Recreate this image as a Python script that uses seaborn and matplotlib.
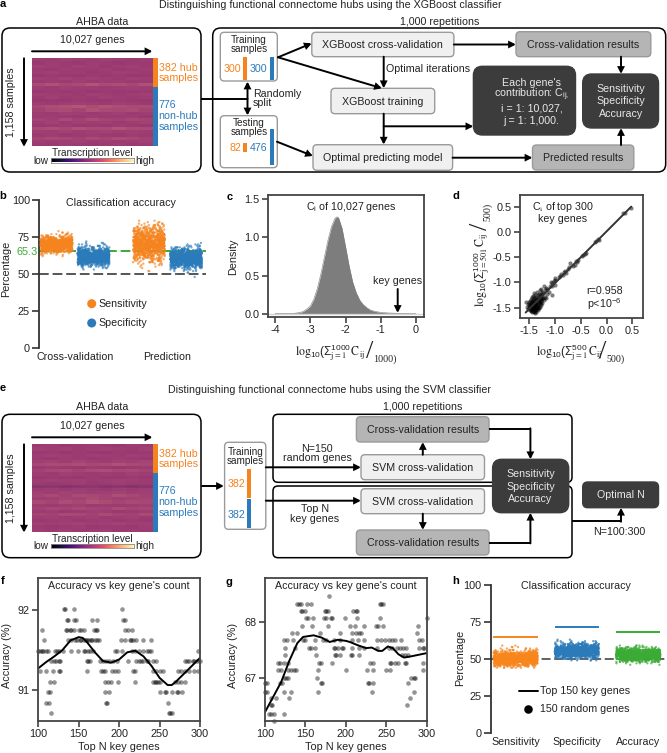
import numpy as np
import pandas as pd
import matplotlib
matplotlib.use('Agg')
import matplotlib.pyplot as plt
from matplotlib.patches import FancyBboxPatch, Rectangle
import seaborn as sns

W, H = 667, 753
ORANGE = '#f5841f'
BLUE = '#2b7bba'
GREEN = '#3bab35'
DARK = '#333333'
TEXT = '#222222'
LIGHT_BOX = '#f0f0f0'
GREY_BOX = '#b5b5b5'
DARK_BOX = '#3c3c3c'
EDGE = '#9a9a9a'

# heatmaps, transcription level in hundredths of the colour scale
heat_a = [
    [47, 46, 48, 47, 46, 48, 47, 46, 47], [45, 47, 46, 45, 47, 46, 45, 46, 46],
    [48, 47, 46, 48, 47, 45, 47, 48, 46], [46, 45, 47, 46, 46, 47, 45, 46, 47],
    [47, 48, 46, 47, 45, 46, 48, 47, 46], [44, 46, 45, 44, 46, 45, 46, 44, 45],
    [48, 47, 49, 47, 48, 47, 46, 48, 47], [46, 47, 46, 48, 46, 47, 47, 46, 46],
    [52, 55, 51, 53, 56, 52, 54, 51, 55], [47, 46, 48, 47, 47, 46, 47, 48, 47],
    [45, 46, 45, 46, 44, 46, 45, 45, 46], [48, 47, 47, 46, 48, 47, 46, 47, 48],
    [46, 48, 46, 47, 46, 48, 47, 46, 47], [44, 45, 44, 46, 45, 44, 46, 45, 44],
    [47, 46, 47, 48, 47, 46, 48, 47, 46], [51, 54, 55, 57, 53, 56, 54, 52, 53],
    [49, 52, 53, 50, 55, 52, 51, 53, 50], [47, 46, 48, 47, 46, 47, 48, 46, 47],
    [46, 47, 46, 45, 47, 46, 46, 47, 45], [50, 48, 52, 49, 53, 50, 49, 51, 50],
    [47, 49, 46, 48, 47, 48, 46, 47, 49], [45, 46, 47, 45, 46, 45, 47, 46, 45],
    [52, 54, 51, 55, 53, 52, 56, 53, 52], [48, 47, 49, 47, 48, 49, 47, 48, 47],
    [46, 47, 45, 46, 47, 46, 45, 47, 46], [50, 52, 51, 49, 52, 50, 53, 51, 49],
    [47, 46, 47, 48, 46, 47, 46, 47, 48], [46, 45, 47, 46, 45, 46, 47, 45, 46],
]
heat_e = [
    [46, 47, 45, 46, 47, 46, 45, 47, 46], [48, 47, 48, 46, 47, 48, 47, 46, 48],
    [45, 46, 44, 46, 45, 44, 46, 45, 46], [47, 48, 47, 46, 48, 47, 46, 48, 47],
    [46, 45, 47, 46, 45, 46, 47, 46, 45], [48, 49, 47, 50, 48, 47, 49, 48, 50],
    [51, 53, 52, 54, 51, 53, 55, 52, 51], [46, 47, 46, 45, 47, 46, 45, 46, 47],
    [49, 51, 52, 50, 53, 54, 51, 52, 50], [47, 46, 48, 47, 46, 47, 46, 48, 47],
    [45, 46, 45, 44, 46, 45, 44, 46, 45], [47, 48, 47, 48, 46, 47, 48, 47, 46],
    [46, 45, 46, 47, 45, 46, 47, 46, 46], [38, 40, 37, 39, 41, 38, 40, 37, 39],
    [46, 47, 45, 47, 46, 45, 47, 46, 47], [48, 47, 49, 48, 47, 48, 49, 47, 48],
    [50, 52, 49, 53, 51, 50, 54, 51, 49], [47, 48, 50, 49, 52, 50, 48, 49, 50],
    [52, 50, 54, 51, 55, 53, 50, 52, 51], [47, 46, 47, 48, 46, 47, 46, 47, 48],
    [49, 51, 50, 52, 50, 49, 53, 50, 51], [46, 47, 45, 46, 48, 47, 45, 46, 47],
    [50, 49, 52, 51, 49, 53, 50, 49, 52], [47, 48, 46, 47, 48, 46, 47, 48, 46],
    [45, 46, 47, 45, 46, 47, 45, 46, 45], [48, 47, 48, 49, 47, 48, 49, 47, 48],
    [46, 45, 46, 47, 45, 46, 46, 45, 47], [47, 46, 48, 46, 47, 48, 46, 47, 46],
]

# panel b, repeated measurements given as value levels and how many runs sit on each
b_positions = [0, 1, 2.5, 3.5]
b_groups = ['Sensitivity', 'Specificity', 'Sensitivity', 'Specificity']
b_first_level = [62, 53, 52, 48]
b_counts = [
    [2, 4, 10, 25, 50, 90, 120, 140, 150, 140, 110, 70, 40, 25, 12, 6, 3, 1],
    [2, 4, 10, 20, 40, 75, 100, 120, 130, 130, 115, 90, 60, 40, 25, 15, 8, 5, 3, 1],
    [2, 0, 1, 2, 3, 5, 8, 12, 16, 20, 25, 30, 35, 40, 45, 50, 55, 60, 65, 60, 60, 55, 50, 45, 40,
     35, 30, 25, 20, 15, 10, 8, 5, 3, 2],
    [1, 0, 1, 2, 4, 8, 15, 30, 50, 70, 90, 110, 115, 120, 110, 90, 70, 50, 30, 15, 10, 6, 3, 1],
]

# panel c, density curve
c_x = [-4.0, -3.5, -3.3, -3.2, -3.1, -3.0, -2.9, -2.8, -2.7, -2.6, -2.5, -2.4, -2.3, -2.25, -2.2,
       -2.1, -2.0, -1.9, -1.8, -1.7, -1.6, -1.5, -1.4, -1.3, -1.2, -1.1, -1.0, -0.8, -0.5, 0.0]
c_y = [0.0, 0.003, 0.015, 0.03, 0.06, 0.10, 0.19, 0.33, 0.52, 0.74, 0.96, 1.14, 1.25, 1.27, 1.26,
       1.12, 0.88, 0.63, 0.42, 0.28, 0.18, 0.12, 0.08, 0.05, 0.035, 0.025, 0.018, 0.01, 0.005, 0.002]

# panel d, top key genes in the two halves of the repetitions
d_x = [0.48, 0.32, 0.35, -0.15, -0.17, -0.20, -0.22, -0.40, -0.42, -0.45, -0.48, -0.55, -0.57, -0.60,
       -0.62, -0.65, -0.70, -0.72, -0.75, -0.78, -0.80, -0.82, -0.85, -0.88, -0.90, -0.93, -1.00, -1.00,
       -1.00, -1.02, -1.05, -1.05, -1.08, -1.10, -1.12, -1.05, -1.15, -1.16, -1.18, -1.18, -1.20, -1.20,
       -1.22, -1.22, -1.23, -1.24, -1.25, -1.25, -1.26, -1.26, -1.27, -1.27, -1.28, -1.28, -1.29, -1.29,
       -1.30, -1.30, -1.30, -1.31, -1.31, -1.32, -1.32, -1.33, -1.33, -1.33, -1.34, -1.34, -1.35, -1.35,
       -1.35, -1.36, -1.36, -1.36, -1.37, -1.37, -1.37, -1.38, -1.38, -1.38, -1.39, -1.39, -1.39, -1.40,
       -1.40, -1.40, -1.40, -1.41, -1.41, -1.41, -1.42, -1.42, -1.42, -1.43, -1.43, -1.43, -1.44, -1.44,
       -1.44, -1.45, -1.45, -1.45, -1.46, -1.46, -1.46, -1.47, -1.47, -1.48, -1.48, -1.49, -1.49, -1.50,
       -1.50, -1.51, -1.52, -1.53, -1.55, -1.57, -1.33, -1.36, -1.38, -1.40, -1.43, -1.45, -1.30, -1.28,
       -1.26, -1.35, -1.42, -1.37, -1.32, -1.40, -1.47, -1.44, -1.39, -1.34, -1.41, -1.36]
d_y = [0.47, 0.37, 0.38, -0.15, -0.14, -0.18, -0.20, -0.42, -0.44, -0.45, -0.47, -0.55, -0.60, -0.58,
       -0.65, -0.68, -0.62, -0.70, -0.73, -0.82, -0.78, -0.80, -0.85, -0.83, -0.87, -0.90, -0.92, -1.05,
       -0.95, -0.98, -1.02, -1.08, -1.00, -1.08, -1.18, -1.25, -1.12, -1.22, -1.10, -1.30, -1.15, -1.28,
       -1.08, -1.35, -1.20, -1.30, -1.18, -1.40, -1.25, -1.33, -1.12, -1.45, -1.22, -1.38, -1.30, -1.48,
       -1.15, -1.27, -1.42, -1.34, -1.50, -1.22, -1.40, -1.30, -1.45, -1.55, -1.25, -1.38, -1.18, -1.33,
       -1.50, -1.28, -1.42, -1.58, -1.35, -1.47, -1.55, -1.24, -1.40, -1.52, -1.32, -1.45, -1.60, -1.20,
       -1.36, -1.48, -1.56, -1.30, -1.42, -1.53, -1.26, -1.38, -1.50, -1.34, -1.46, -1.57, -1.29, -1.41,
       -1.52, -1.37, -1.49, -1.58, -1.33, -1.44, -1.55, -1.40, -1.51, -1.36, -1.47, -1.43, -1.54, -1.38,
       -1.50, -1.45, -1.42, -1.52, -1.48, -1.38, -1.50, -1.46, -1.43, -1.49, -1.40, -1.53, -1.39, -1.35,
       -1.31, -1.44, -1.47, -1.52, -1.37, -1.44, -1.56, -1.50, -1.54, -1.48, -1.58, -1.41]

# panel f, accuracy levels and the gene counts found on each level
f_levels = [92.01, 91.88, 91.75, 91.62, 91.49, 91.36, 91.23, 91.10, 90.97, 90.84, 90.71]
f_counts = [
    [132, 133, 144, 203],
    [135, 137, 144, 147, 167, 173, 205, 207],
    [104, 134, 136, 139, 141, 144, 150, 153, 156, 169, 171, 173, 207, 211, 216],
    [107, 137, 140, 146, 148, 151, 153, 156, 159, 160, 163, 165, 167, 170, 173, 175, 202, 207, 213, 215,
     217, 221, 230, 239],
    [100, 102, 104, 106, 109, 112, 121, 123, 126, 131, 140, 149, 156, 158, 162, 164, 168, 195, 197, 203,
     216, 220, 224, 230, 234, 237, 240, 298],
    [116, 119, 122, 125, 127, 160, 162, 164, 176, 180, 184, 188, 193, 197, 211, 221, 225, 227, 230, 234,
     236, 242, 246, 281, 284, 287, 291, 293, 296, 300],
    [102, 109, 118, 125, 127, 160, 178, 180, 183, 191, 195, 199, 217, 220, 242, 246, 251, 254, 273, 277,
     281, 287, 293, 298],
    [114, 119, 182, 186, 190, 199, 219, 242, 244, 246, 248, 251, 269, 273, 277, 281],
    [112, 114, 182, 188, 250, 257, 258, 265, 271, 273, 278],
    [110, 113, 184, 185, 260],
    [116, 262, 263, 265],
]
f_line_x = [100, 110, 120, 130, 140, 150, 155, 160, 170, 180, 190, 200, 210, 220, 230, 240, 250, 260,
            265, 270, 280, 290, 300]
f_line_y = [91.27, 91.35, 91.42, 91.50, 91.62, 91.66, 91.65, 91.60, 91.47, 91.36, 91.34, 91.38, 91.47,
            91.49, 91.42, 91.30, 91.15, 91.06, 91.06, 91.10, 91.20, 91.30, 91.40]

# panel g
g_levels = [68.47, 68.33, 68.20, 68.07, 67.93, 67.80, 67.67, 67.53, 67.40, 67.27, 67.13, 67.00, 66.90,
            66.75, 66.63, 66.50, 66.35, 66.22]
g_counts = [
    [179],
    [140, 142, 144, 152, 157, 242, 244, 246],
    [144, 146, 149, 174, 176, 178, 209, 212, 214],
    [151, 153, 159, 173, 176, 182, 183, 199, 214, 242, 300],
    [146, 158, 178, 205, 211, 222, 237, 240, 246, 289],
    [134, 139, 168, 193, 207, 213, 216, 219, 288],
    [123, 127, 135, 147, 149, 162, 172, 176, 185, 193, 207, 215, 222, 238, 244, 248, 253, 257, 261, 268,
     290, 294],
    [125, 137, 154, 157, 162, 185, 187, 190, 195, 197, 207, 216, 222, 238, 253, 257, 263, 267, 271, 275,
     291, 295, 297],
    [125, 163, 186, 188, 193, 206, 208, 216, 269, 273, 277],
    [116, 118, 124, 128, 167, 169, 183, 230, 234, 254, 256, 261, 265, 273, 275, 296],
    [116, 120, 129, 132, 136, 138, 166, 200, 226, 234, 250, 255, 296],
    [124, 126, 129, 164, 281, 284, 286],
    [100, 102, 119, 121, 169, 171, 227, 229, 234, 277],
    [100, 103, 124, 132, 165, 232, 284],
    [108, 114, 130, 279],
    [108, 109, 276],
    [105, 108, 111, 123],
    [111],
]
g_line_x = [100, 110, 120, 130, 140, 147, 160, 170, 180, 190, 200, 205, 215, 225, 232, 240, 245, 252,
            258, 265, 272, 280, 300]
g_line_y = [66.38, 66.65, 66.92, 67.30, 67.62, 67.73, 67.76, 67.72, 67.64, 67.68, 67.66, 67.64, 67.58,
            67.53, 67.54, 67.48, 67.48, 67.56, 67.53, 67.42, 67.36, 67.38, 67.44]

# panel h
h_labels = ['Sensitivity', 'Specificity', 'Accuracy']
h_first_level = [44, 49, 46]
h_counts = [
    [8, 25, 50, 85, 120, 145, 150, 140, 115, 80, 50, 25, 12, 6, 3, 2],
    [5, 15, 35, 70, 105, 130, 140, 135, 115, 85, 55, 30, 15, 6, 2],
    [2, 6, 20, 50, 95, 140, 165, 170, 140, 100, 60, 30, 12, 5],
]
h_top150 = [64.6, 71.8, 68.2]

sns.set_theme(style='white')
plt.rcParams['font.family'] = ['Liberation Sans', 'DejaVu Sans']
plt.rcParams['mathtext.fontset'] = 'custom'
plt.rcParams['mathtext.rm'] = 'Liberation Sans'
plt.rcParams['mathtext.it'] = 'Liberation Sans:italic'
plt.rcParams['mathtext.bf'] = 'Liberation Sans:bold'
plt.rcParams['mathtext.fallback'] = 'stix'
plt.rcParams['mathtext.default'] = 'regular'
plt.rcParams['axes.unicode_minus'] = False

# heat colours sit a bit duller than plain magma once the fine stripes blend
heat_cmap = sns.blend_palette(['#3a1a5a', '#9c3a72', '#e8a080'], as_cmap=True)

fig = plt.figure(figsize=(W / 100, H / 100), dpi=100)

# overlay in picture pixels for the flow charts and annotations
ov = fig.add_axes([0, 0, 1, 1], zorder=10)
ov.set_xlim(0, W)
ov.set_ylim(H, 0)
ov.axis('off')
ov.patch.set_alpha(0)


def add_ax(left, top, right, bottom):
    return fig.add_axes([left / W, 1 - bottom / H, (right - left) / W, (bottom - top) / H])


def txt(x, y, s, size=7.7, color=TEXT, ha='center', va='center', **kw):
    ov.text(x, y, s, fontsize=size, color=color, ha=ha, va=va, **kw)


def box(x0, y0, x1, y1, face='none', edge=EDGE, lw=1.0, r=4):
    ov.add_patch(FancyBboxPatch((x0, y0), x1 - x0, y1 - y0, boxstyle=f'round,pad=0,rounding_size={r}',
                                fc=face, ec=edge, lw=lw))


def arrow(x0, y0, x1, y1, style='-|>'):
    ov.annotate('', xy=(x1, y1), xytext=(x0, y0),
                arrowprops=dict(arrowstyle=style, color='black', lw=1.4, mutation_scale=8.5,
                                shrinkA=0, shrinkB=0, joinstyle='miter'))


def line(xs, ys):
    ov.plot(xs, ys, color='black', lw=1.4, solid_capstyle='butt', solid_joinstyle='miter')


def bar(x0, y0, x1, y1, color):
    ov.add_patch(Rectangle((x0, y0), x1 - x0, y1 - y0, fc=color, ec='none'))


def panel_letter(x, y, s):
    txt(x, y, s, size=8, color='black', fontweight='bold')


def strip_frame(positions, groups, first_levels, counts):
    rows = []
    for pos, grp, first, cnt in zip(positions, groups, first_levels, counts):
        levels = first + np.arange(len(cnt))
        vals = np.repeat(levels, cnt)
        rows.append(pd.DataFrame({'pos': pos, 'group': grp, 'value': vals}))
    return pd.concat(rows, ignore_index=True)


def level_frame(levels, counts):
    rows = [pd.DataFrame({'n': c, 'acc': lev}) for lev, c in zip(levels, counts)]
    return pd.concat(rows, ignore_index=True)


def style_box(ax):
    for s in ax.spines.values():
        s.set_visible(True)
        s.set_color('#444444')
        s.set_linewidth(1.3)
    ax.tick_params(axis='both', which='major', length=4, width=1.1, color='#333333', labelsize=7.8,
                   labelcolor=TEXT, pad=2, bottom=True, left=True)
    ax.grid(False)


def style_open(ax):
    sns.despine(ax=ax, bottom=True)
    ax.spines['left'].set_color(DARK)
    ax.spines['left'].set_linewidth(1.3)
    ax.tick_params(axis='y', length=5, width=1.2, color=DARK, labelsize=7.8, labelcolor=TEXT, pad=1.5,
                   left=True)
    ax.tick_params(axis='x', length=0, labelsize=7.7, labelcolor=TEXT, pad=3)
    ax.set_ylim(0, 100)
    ax.set_yticks([0, 25, 50, 75, 100])
    ax.set_facecolor('none')


def heat_block(matrix, top, bottom, bar_split):
    ax = add_ax(32, top, 152.7, bottom)
    sns.heatmap(np.array(matrix) / 100, cmap=heat_cmap, vmin=0.06, vmax=0.86, cbar=False, xticklabels=False,
                yticklabels=False, ax=ax)
    bar(153.3, top, 157.5, bar_split, ORANGE)
    bar(153.3, bar_split, 157.5, bottom, BLUE)
    txt(92.7, top - 18, '10,027 genes')
    arrow(32, top - 7, 152.5, top - 7)
    arrow(24, top, 24, bottom + 1)
    txt(11, (top + bottom) / 2, '1,158 samples', rotation=90)
    txt(158.7, top + 9.4, '382 hub', color=ORANGE, ha='left')
    txt(158.7, top + 20, 'samples', color=ORANGE, ha='left')
    txt(158.7, top + 46.5, '776', color=BLUE, ha='left')
    txt(158.7, top + 57.5, 'non-hub', color=BLUE, ha='left')
    txt(158.7, top + 68.5, 'samples', color=BLUE, ha='left')
    txt(92.7, bottom + 7, 'Transcription level', size=7.2)
    txt(41, bottom + 14.5, 'low', size=7.2)
    txt(144.6, bottom + 14.5, 'high', size=7.2)
    cax = add_ax(50.5, bottom + 12.3, 134.2, bottom + 16.5)
    cax.imshow(np.linspace(0, 1, 256)[None, :], cmap='magma', aspect='auto')
    cax.set_xticks([])
    cax.set_yticks([])
    for s in cax.spines.values():
        s.set_color('#8a8a8a')
        s.set_linewidth(0.6)


# ---- panel a ----
panel_letter(3, 3.5, 'a')
txt(330, 4.5, 'Distinguishing functional connectome hubs using the XGBoost classifier')
txt(102, 21.7, 'AHBA data')
txt(440, 21.7, '1,000 repetitions')
box(2, 28, 201, 172, edge='black', lw=1.1, r=8)
box(212.7, 28, 665.7, 172, edge='black', lw=1.1, r=8)
heat_block(heat_a, 58.3, 146, 87.3)

box(220.3, 32.3, 277.3, 81, face='white')
txt(248.8, 40, 'Training', size=7.2)
txt(248.8, 49, 'samples', size=7.2)
txt(232.7, 69, '300', color=ORANGE)
txt(258.6, 69, '300', color=BLUE)
bar(243.3, 57.3, 246.7, 80, ORANGE)
bar(270, 57.3, 273.5, 80, BLUE)

box(220.3, 115.7, 277.3, 167.7, face='white')
txt(248.8, 123, 'Testing', size=7.2)
txt(248.8, 132.3, 'samples', size=7.2)
txt(235, 148.3, '82', color=ORANGE)
txt(258.6, 148.3, '476', color=BLUE)
bar(243.3, 143.3, 246.7, 152, ORANGE)
bar(270, 129, 273.5, 165, BLUE)

txt(253, 94.3, 'Randomly', ha='left')
txt(253, 103.3, 'split', ha='left')
line([201, 247.5], [98.7, 98.7])
arrow(247.5, 98.7, 247.5, 81.5)
arrow(247.5, 98.7, 247.5, 115.5)

box(311.8, 32.3, 453.9, 56.7, face=LIGHT_BOX)
txt(382.8, 44.7, 'XGBoost cross-validation')
box(516, 31.7, 650.8, 56.7, face=GREY_BOX)
txt(583, 44.5, 'Cross-validation results')
box(331, 88.3, 434.7, 113.7, face=LIGHT_BOX)
txt(383, 101.5, 'XGBoost training')
box(313, 144.7, 452.6, 170.3, face=LIGHT_BOX)
txt(382.8, 157.7, 'Optimal predicting model')
box(532.5, 145, 633.8, 170, face=GREY_BOX)
txt(583, 157.7, 'Predicted results')
box(473.4, 66.3, 575.5, 135, face=DARK_BOX, edge=DARK_BOX, r=9)
for y, s in zip([82.7, 95, 108.3, 120.7],
                ["Each gene's", 'contribution: C$_{ij,}$', 'i = 1: 10,027,', 'j = 1: 1,000.']):
    txt(531.7, y, s, color='#e8e8e8')
box(582.7, 74, 658.5, 128, face=DARK_BOX, edge=DARK_BOX, r=9)
for y, s in zip([88.7, 101.3, 114.3], ['Sensitivity', 'Specificity', 'Accuracy']):
    txt(621, y, s, color='#e8e8e8')

arrow(278, 57.3, 311.8, 43.3)
arrow(278, 57.3, 382, 88.3)
arrow(383.7, 56.7, 383.7, 88.3)
txt(385.5, 69, 'Optimal iterations', ha='left')
arrow(453.9, 44.5, 516, 44.5)
arrow(621, 56.7, 621, 74)
arrow(383.7, 113.7, 383.7, 144.7)
arrow(383.7, 126.3, 473.4, 126.3)
arrow(277, 141.7, 313, 156)
arrow(452.6, 157.7, 532.5, 157.7)
arrow(621, 145, 621, 128)

# ---- panel b ----
panel_letter(3, 195.7, 'b')
df_b = strip_frame(b_positions, b_groups, b_first_level, b_counts)
ax_b = add_ax(39, 200, 206, 348)
ax_b.axhline(65.3, color=GREEN, lw=1.4, ls=(0, (5, 2)), zorder=1)
ax_b.axhline(50, color='#555555', lw=1.4, ls=(0, (5, 2)), zorder=1)
sns.stripplot(data=df_b, x='pos', y='value', hue='group', palette={'Sensitivity': ORANGE, 'Specificity': BLUE},
              native_scale=True, jitter=0.43, size=1.7, alpha=0.65, linewidth=0, orient='x', legend=False,
              zorder=3, ax=ax_b)
style_open(ax_b)
ax_b.set_xlim(-0.473, 4.04)
ax_b.set_xticks([0.5, 3.0])
ax_b.set_xticklabels(['Cross-validation', 'Prediction'])
ax_b.set_xlabel('')
ax_b.set_ylabel('Percentage', fontsize=7.8, color=TEXT)
ax_b.yaxis.set_label_coords(11, 269, transform=ov.transData)
txt(120.7, 203.3, 'Classification accuracy')
txt(27, 251.5, '65.3', color=GREEN, size=7.8)
ov.scatter([91.7, 91.7], [303.7, 323], s=42, c=[ORANGE, BLUE], linewidths=0)
txt(98.7, 303.7, 'Sensitivity', ha='left')
txt(98.7, 323, 'Specificity', ha='left')

# ---- panel c ----
panel_letter(230, 196.7, 'c')
ax_c = add_ax(268, 195, 424, 317)
ax_c.axhline(0, color='#d4d4d4', lw=1.0)
sns.lineplot(x=c_x, y=c_y, color='#7d7d7d', lw=0.4, ax=ax_c)
ax_c.fill_between(c_x, c_y, color='#7d7d7d', lw=0)
style_box(ax_c)
ax_c.set_xlim(-4.2, 0.227)
ax_c.set_ylim(-0.043, 1.556)
ax_c.set_xticks([-4, -3, -2, -1, 0])
ax_c.set_yticks([0, 0.5, 1.0, 1.5])
ax_c.set_yticklabels(['0.0', '0.5', '1.0', '1.5'])
ax_c.set_ylabel('Density', fontsize=7.8, color=TEXT)
ax_c.yaxis.set_label_coords(238, 257, transform=ov.transData)
txt(351.7, 207.3, 'C$_{i}$ of 10,027 genes')
txt(397.7, 281.3, 'key genes')
arrow(397.7, 289, 397.7, 313)
txt(295, 353, r'$\mathrm{log}_{10}(\Sigma_{\mathrm{j=1}}^{1000}\,\mathrm{C_{ij}}$', size=8.5, ha='left',
    math_fontfamily='stix')
txt(370, 351.5, '/', size=19, family='Liberation Serif', fontweight='light')
txt(385, 359.5, '1000)', size=7.2, family='Liberation Serif')

# ---- panel d ----
panel_letter(456, 196, 'd')
ax_d = add_ax(520, 195, 643, 318)
sns.scatterplot(x=d_x, y=d_y, color='black', alpha=0.5, s=9, linewidth=0, ax=ax_d)
sns.regplot(x=d_x, y=d_y, scatter=False, ci=None, truncate=True, color='#333333', line_kws={'lw': 1.4}, ax=ax_d)
style_box(ax_d)
ax_d.set_xlim(-1.68, 0.708)
ax_d.set_ylim(-1.704, 0.732)
ax_d.set_xticks([-1.5, -1.0, -0.5, 0.0, 0.5])
ax_d.set_yticks([-1.5, -1.0, -0.5, 0.0, 0.5])
ax_d.set_xticklabels(['-1.5', '-1.0', '-0.5', '0.0', '0.5'])
ax_d.set_yticklabels(['-1.5', '-1.0', '-0.5', '0.0', '0.5'])
txt(563, 207, r'C$_{\mathrm{i}}$ of top 300', math_fontfamily='stix')
txt(563, 219, 'key genes')
txt(586.7, 290.5, 'r=0.958', ha='left')
txt(586.7, 304, 'p<10$^{-6}$', ha='left')
txt(536, 353, r'$\mathrm{log}_{10}(\Sigma_{\mathrm{j=1}}^{500}\,\mathrm{C_{ij}}$', size=8.5, ha='left',
    math_fontfamily='stix')
txt(603, 351.5, '/', size=19, family='Liberation Serif', fontweight='light')
txt(616, 359.5, '500)', size=7.2, family='Liberation Serif')
txt(482, 307, r'$\mathrm{log}_{10}(\Sigma_{\mathrm{j=501}}^{1000}\,\mathrm{C_{ij}}$', size=8.5, rotation=90,
    va='bottom', math_fontfamily='stix')
txt(481, 226, '/', size=19, family='Liberation Serif', rotation=90)
txt(488, 212, '500)', size=7.2, family='Liberation Serif', rotation=90)

# ---- panel e ----
panel_letter(3, 388, 'e')
txt(330, 390, 'Distinguishing functional connectome hubs using the SVM classifier')
txt(101.7, 407.3, 'AHBA data')
txt(423, 407.3, '1,000 repetitions')
box(2, 414.3, 201, 557.7, edge='black', lw=1.1, r=8)
heat_block(heat_e, 444.3, 531.7, 472.7)
arrow(202, 486, 224, 486)

box(224.6, 442.3, 265.8, 529.3, face='white')
txt(245.4, 452, 'Training', size=7.2)
txt(245.4, 461, 'samples', size=7.2)
txt(236, 484.3, '382', color=ORANGE)
txt(236, 515, '382', color=BLUE)
bar(247, 469, 251, 497.7, ORANGE)
bar(247, 499, 251, 527.7, BLUE)

box(273, 414.3, 572, 482.3, edge='black', lw=1.1, r=5)
box(273, 486, 572, 557.7, edge='black', lw=1.1, r=5)
box(356.4, 416.7, 489, 442, face=GREY_BOX)
txt(422.8, 430, 'Cross-validation results')
box(361, 454.7, 484.5, 479.7, face=LIGHT_BOX)
txt(422.8, 467.7, 'SVM cross-validation')
box(361, 488.7, 484.5, 513.7, face=LIGHT_BOX)
txt(422.8, 501.7, 'SVM cross-validation')
box(356.4, 530, 489, 555, face=GREY_BOX)
txt(422.8, 543.3, 'Cross-validation results')
box(492.6, 459.3, 568.7, 512.7, face=DARK_BOX, edge=DARK_BOX, r=9)
for y, s in zip([473.7, 486.7, 499.3], ['Sensitivity', 'Specificity', 'Accuracy']):
    txt(530.4, y, s, color='#e8e8e8')
box(582.7, 482, 658.5, 507.7, face=DARK_BOX, edge=DARK_BOX, r=5)
txt(621, 495, 'Optimal N', color='#e8e8e8')
txt(619, 531.7, 'N=100:300')
txt(317, 449.3, 'N=150')
txt(317, 458.3, 'random genes')
txt(315, 509.3, 'Top N')
txt(315, 519, 'key genes')

arrow(265.8, 467.3, 361, 467.3)
arrow(265.8, 500.7, 361, 500.7)
arrow(422.8, 454.7, 422.8, 442)
arrow(422.8, 513.7, 422.8, 530)
line([489, 530.4], [429, 429])
arrow(530.4, 428.3, 530.4, 459.3)
line([489, 530.4], [542.7, 542.7])
arrow(530.4, 543.4, 530.4, 512.7)
line([572, 621], [521, 521])
arrow(621, 521.7, 621, 507.7)

# ---- panels f, g ----
for letter, lx, ly, rect, levels, counts, lx_vals, ly_vals, ylim, yticks, label_x in [
    ('f', 3, 580.7, (38.3, 578, 200, 721), f_levels, f_counts, f_line_x, f_line_y, (90.61, 92.4), [91, 92], 12.3),
    ('g', 229, 582, (265, 578, 426.7, 721), g_levels, g_counts, g_line_x, g_line_y, (66.22, 68.79), [67, 68], 238),
]:
    panel_letter(lx, ly, letter)
    ax = add_ax(*rect)
    df = level_frame(levels, counts)
    sns.scatterplot(data=df, x='n', y='acc', color='black', alpha=0.42, s=11, linewidth=0, clip_on=False, ax=ax)
    sns.lineplot(x=lx_vals, y=ly_vals, color='black', lw=1.4, ax=ax)
    style_box(ax)
    ax.set_xlim(100, 300)
    ax.set_ylim(*ylim)
    ax.set_xticks([100, 150, 200, 250, 300])
    ax.set_yticks(yticks)
    ax.set_xlabel('Top N key genes', fontsize=7.8, color=TEXT)
    ax.xaxis.set_label_coords((rect[0] + rect[2]) / 2, 742, transform=ov.transData)
    ax.set_ylabel('Accuracy (%)', fontsize=7.8, color=TEXT)
    ax.yaxis.set_label_coords(label_x, 655, transform=ov.transData)
    txt((rect[0] + rect[2]) / 2, 586, "Accuracy vs key gene's count")

# ---- panel h ----
panel_letter(456, 580.7, 'h')
h_positions = [0, 1, 2]
df_h = strip_frame(h_positions, h_labels, h_first_level, h_counts)
ax_h = add_ax(490.7, 585, 667, 732.7)
ax_h.axhline(50, color='#555555', lw=1.3, ls=(0, (5, 2)), zorder=1)
sns.stripplot(data=df_h, x='pos', y='value', hue='group', palette=dict(zip(h_labels, ['#f7861c', BLUE, GREEN])),
              native_scale=True, jitter=0.36, size=1.7, alpha=0.7, linewidth=0, orient='x', legend=False,
              zorder=3, ax=ax_h)
for pos, val, col in zip(h_positions, h_top150, ['#f7861c', BLUE, GREEN]):
    ax_h.hlines(val, pos - 0.36, pos + 0.36, color=col, lw=1.4)
style_open(ax_h)
ax_h.set_xlim(-0.405, 2.47)
ax_h.set_xticks(h_positions)
ax_h.set_xticklabels(h_labels)
ax_h.set_xlabel('')
ax_h.set_ylabel('Percentage', fontsize=7.8, color=TEXT)
ax_h.yaxis.set_label_coords(465, 657.7, transform=ov.transData)
txt(575.7, 586, 'Classification accuracy')
ov.plot([519.3, 538.3], [690.7, 690.7], color='black', lw=1.4)
ov.scatter([528.3], [709], s=38, c='black', linewidths=0)
txt(540.3, 690.7, 'Top 150 key genes', ha='left')
txt(540.3, 709, '150 random genes', ha='left')

ov.set_xlim(0, W)
ov.set_ylim(H, 0)
fig.savefig('out.png', dpi=100)
plt.close(fig)
